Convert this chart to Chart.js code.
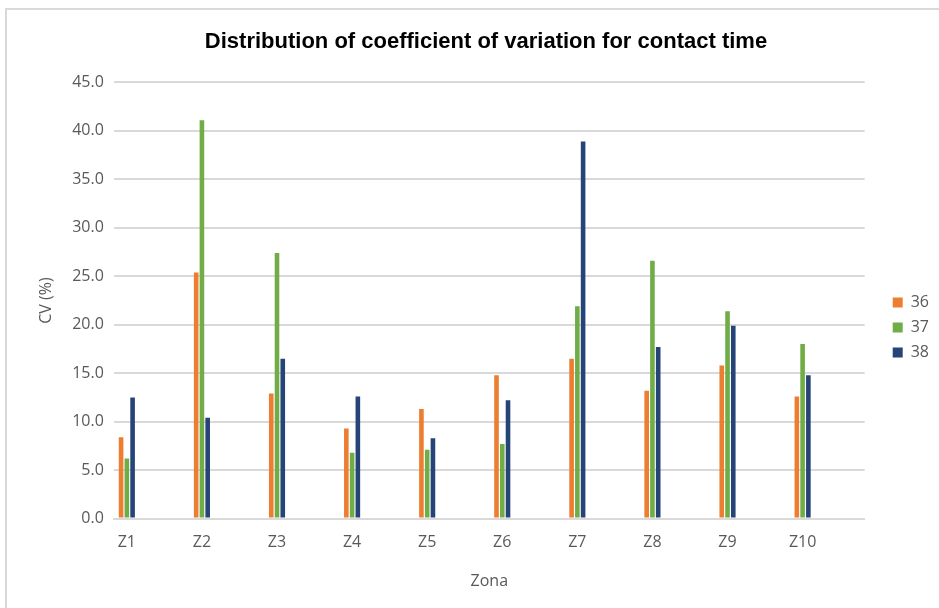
<!DOCTYPE html>
<html>
<head>
<meta charset="utf-8">
<script src="https://cdn.jsdelivr.net/npm/chart.js@4.4.1/dist/chart.umd.min.js"></script>
<style>
  html, body { margin: 0; padding: 0; background: #fff; }
  #wrap { position: relative; width: 939px; height: 608px; }
  #frame { position: absolute; left: 5px; top: 8px; width: 960px; height: 620px;
           border-left: 2px solid #d9d9d9; border-top: 2px solid #d9d9d9; }
  canvas { position: absolute; left: 0; top: 0; }
</style>
</head>
<body>
<div id="wrap">
  <div id="frame"></div>
  <canvas id="cvChart" width="939" height="608"></canvas>
</div>
<script>
var zones = ["Z1", "Z2", "Z3", "Z4", "Z5", "Z6", "Z7", "Z8", "Z9", "Z10"];
var cv36 = [8.4, 25.4, 12.9, 9.3, 11.3, 14.8, 16.5, 13.2, 15.8, 12.6];
var cv37 = [6.2, 41.1, 27.4, 6.8, 7.1, 7.7, 21.9, 26.6, 21.4, 18.0];
var cv38 = [12.5, 10.4, 16.5, 12.6, 8.3, 12.2, 38.9, 17.7, 19.9, 14.8];
var yTicks = [0, 5, 10, 15, 20, 25, 30, 35, 40, 45];

function points(arr) {
  return arr.map(function (v, i) { return { x: i, y: v }; });
}

var grey = "#595959";
var font = "'Open Sans', sans-serif";

var ctx = document.getElementById("cvChart").getContext("2d");
var cvChart = new Chart(ctx, {
  type: "bar",
  data: {
    datasets: [
      { label: "36", data: points(cv36), backgroundColor: "#ED7D31" },
      { label: "37", data: points(cv37), backgroundColor: "#70AD47" },
      { label: "38", data: points(cv38), backgroundColor: "#264478" },
    ],
  },
  options: {
    responsive: false,
    animation: false,
    categoryPercentage: 0.23,
    barPercentage: 0.8,
    layout: { padding: { left: 33, right: 0, top: 10, bottom: 13 } },
    plugins: {
      title: {
        display: true,
        text: "Distribution of coefficient of variation for contact time",
        color: "#000",
        font: { family: "'Liberation Sans', sans-serif", size: 22, weight: "bold" },
        padding: { top: 19, bottom: 27 },
      },
      legend: {
        position: "right",
        title: { display: true, text: " ", font: { size: 10 }, padding: { top: 0, bottom: 38 } },
        labels: {
          boxWidth: 10,
          boxHeight: 10,
          padding: 9,
          color: grey,
          font: { family: font, size: 16 },
        },
      },
      tooltip: { enabled: false },
    },
    scales: {
      x: {
        type: "linear",
        offset: false,
        min: -0.173,
        max: 9.827,
        afterBuildTicks: function (scale) {
          scale.ticks = zones.map(function (z, i) { return { value: i }; });
        },
        ticks: {
          color: grey,
          font: { family: font, size: 16 },
          padding: 14,
          callback: function (v) { return zones[v]; },
        },
        grid: { display: false, drawTicks: false },
        border: { display: true, color: "#d9d9d9", width: 2 },
        title: {
          display: true,
          text: "Zona",
          color: grey,
          font: { family: font, size: 16 },
          padding: { top: 6 },
        },
      },
      y: {
        min: 0,
        max: 45,
        afterBuildTicks: function (scale) {
          scale.ticks = yTicks.map(function (v) { return { value: v }; });
        },
        ticks: {
          color: grey,
          font: { family: font, size: 16 },
          padding: 10,
          callback: function (v) { return v.toFixed(1); },
        },
        grid: { color: "#d9d9d9", lineWidth: 2, drawTicks: false },
        border: { display: false },
        title: {
          display: true,
          text: "CV (%)",
          color: grey,
          font: { family: font, size: 16 },
          padding: { bottom: 6 },
        },
      },
      gap: {
        position: "right",
        display: true,
        ticks: { display: false },
        grid: { display: false, drawTicks: false },
        border: { display: false },
        afterFit: function (scale) { scale.width = 19; },
      },
    },
  },
});
</script>
</body>
</html>
